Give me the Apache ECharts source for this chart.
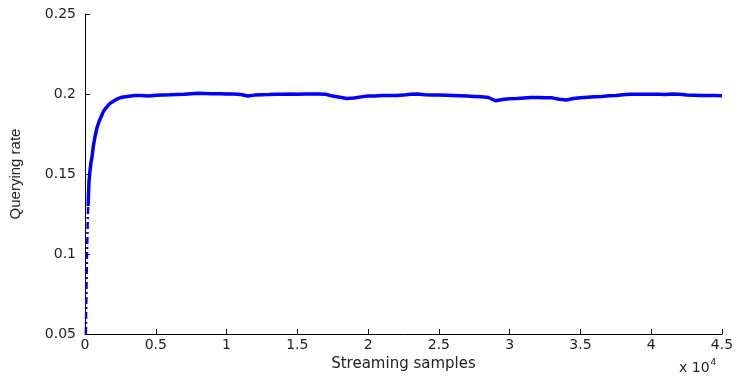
<!DOCTYPE html>
<html>
<head>
<meta charset="utf-8">
<script src="https://cdn.jsdelivr.net/npm/echarts@6/dist/echarts.min.js"></script>
<style>html,body{margin:0;padding:0;background:#fff}#c{width:738px;height:381px}</style>
</head>
<body>
<div id="c"></div>
<script>
// Early ramp (dash-dot part), [samples, rate]
const rampSamples = [60, 100, 140, 180, 220];
const rampRates   = [0.05, 0.075, 0.1, 0.115, 0.13];
// Main curve, [samples, rate]
const mainSamples = [220, 280, 350, 420, 500, 600, 700, 850, 1000, 1150, 1300, 1500, 1750, 2000, 2300, 2600, 3000, 3500,
  4000, 4500, 5000, 5500, 6000, 6500, 7000, 7500, 8000, 8500, 9000, 9500, 10000, 10500, 11000, 11500, 12000, 12500,
  13000, 13500, 14000, 14500, 15000, 15500, 16000, 16500, 17000, 17500, 18000, 18500, 19000, 19500, 20000, 20500,
  21000, 21500, 22000, 22500, 23000, 23500, 24000, 24500, 25000, 25500, 26000, 26500, 27000, 27500, 28000, 28500,
  29000, 29500, 30000, 30500, 31000, 31500, 32000, 32500, 33000, 33500, 34000, 34500, 35000, 35500, 36000, 36500,
  37000, 37500, 38000, 38500, 39000, 39500, 40000, 40500, 41000, 41500, 42000, 42500, 43000, 43500, 44000, 44500, 45000];
const mainRates = [0.13, 0.145, 0.152, 0.157, 0.161, 0.168, 0.173, 0.179, 0.183, 0.186, 0.189, 0.1915, 0.194, 0.1955, 0.197, 0.198, 0.1985, 0.199,
  0.199, 0.1988, 0.1992, 0.1994, 0.1995, 0.1997, 0.1998, 0.2002, 0.2004, 0.2003, 0.2001, 0.2002, 0.2, 0.2, 0.1997, 0.1987, 0.1993, 0.1996,
  0.1997, 0.1999, 0.1999, 0.2, 0.1999, 0.2, 0.2, 0.2, 0.1998, 0.1987, 0.198, 0.1972, 0.1975, 0.1982, 0.1987, 0.1988,
  0.199, 0.199, 0.1991, 0.1993, 0.1999, 0.2, 0.1996, 0.1994, 0.1993, 0.1992, 0.1991, 0.1989, 0.1987, 0.1985, 0.1983, 0.1978,
  0.1958, 0.1965, 0.197, 0.1972, 0.1975, 0.1978, 0.1978, 0.1977, 0.1976, 0.1967, 0.1963, 0.1972, 0.1977, 0.198, 0.1983, 0.1985,
  0.1989, 0.199, 0.1995, 0.1998, 0.1998, 0.1999, 0.1998, 0.1999, 0.1997, 0.2, 0.1999, 0.1994, 0.1992, 0.199, 0.1991, 0.199, 0.1989];
const xTickLabels = ['0', '0.5', '1', '1.5', '2', '2.5', '3', '3.5', '4', '4.5'];
const yTickLabels = ['0.05', '0.1', '0.15', '0.2', '0.25'];

const zip = (a, b) => a.map((v, i) => [v, b[i]]);
const tickFont = {fontFamily: 'DejaVu Sans', fontSize: 14, color: '#222'};

const chart = echarts.init(document.getElementById('c'), null, {renderer: 'canvas'});
chart.setOption({
  animation: false,
  backgroundColor: '#fff',
  grid: {left: 84, right: 16, top: 14, bottom: 47},
  xAxis: {
    type: 'value', min: 0, max: 45000, interval: 5000,
    axisLine: {show: true, lineStyle: {color: '#000', width: 1}},
    axisTick: {show: true, inside: true, length: 5, lineStyle: {color: '#000'}},
    splitLine: {show: false},
    axisLabel: Object.assign({margin: 4, formatter: v => xTickLabels[Math.round(v / 5000)]}, tickFont),
    name: 'Streaming samples', nameLocation: 'middle', nameGap: 20,
    nameTextStyle: {fontFamily: 'DejaVu Sans', fontSize: 15, color: '#222'}
  },
  yAxis: {
    type: 'value', min: 0.05, max: 0.25, interval: 0.05,
    axisLine: {show: true, lineStyle: {color: '#000', width: 1}},
    axisTick: {show: true, inside: true, length: 5, lineStyle: {color: '#000'}},
    splitLine: {show: false},
    axisLabel: Object.assign({margin: 9, formatter: v => yTickLabels[Math.round((v - 0.05) / 0.05)]}, tickFont),
    name: 'Querying rate', nameLocation: 'middle', nameGap: 62, nameRotate: 90,
    nameTextStyle: {fontFamily: 'Liberation Sans Narrow, Liberation Sans', fontSize: 15, color: '#222'}
  },
  series: [
    {type: 'line', data: zip(rampSamples, rampRates), showSymbol: false, clip: true,
     lineStyle: {color: '#0000ff', width: 2.5, type: [7, 3, 2, 3]}},
    {type: 'line', data: zip(mainSamples, mainRates), showSymbol: false, clip: true,
     lineStyle: {color: '#0000ff', width: 3.5}}
  ],
  graphic: [{
    type: 'text', left: 679, top: 358,
    style: {
      text: '{a|x 10}{b|4}',
      rich: {
        a: {fontFamily: 'DejaVu Sans', fontSize: 14, fill: '#222', padding: [6, 0, 0, 0]},
        b: {fontFamily: 'DejaVu Sans', fontSize: 9, fill: '#222', padding: [0, 0, 6, 1]}
      }
    }
  }]
});
</script>
</body>
</html>
